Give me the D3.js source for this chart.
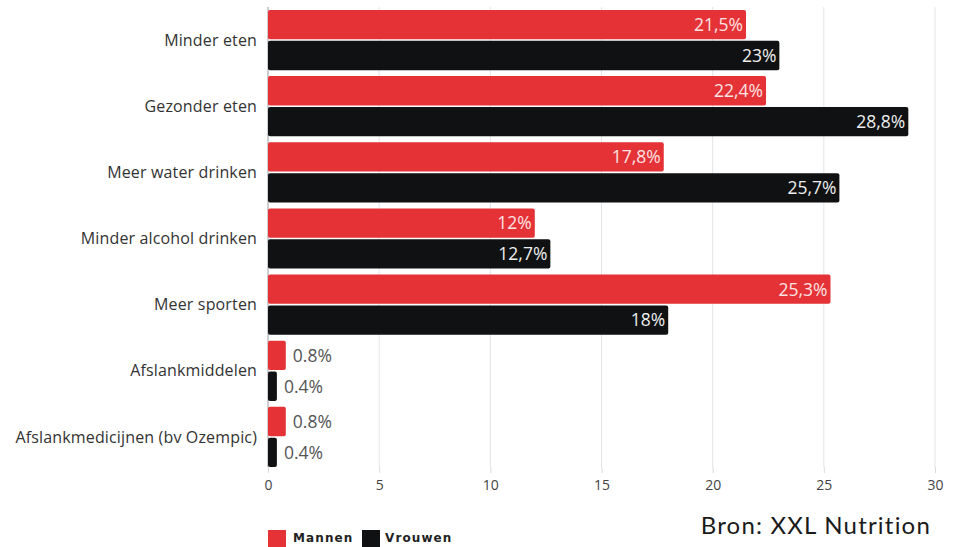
<!DOCTYPE html>
<html>
<head>
<meta charset="utf-8">
<script src="https://cdn.jsdelivr.net/npm/d3@7"></script>
<style>
  body { margin: 0; background: #fff; }
  svg { display: block; }
</style>
</head>
<body>
<script>
// chart data
const categories = ["Minder eten", "Gezonder eten", "Meer water drinken", "Minder alcohol drinken",
  "Meer sporten", "Afslankmiddelen", "Afslankmedicijnen (bv Ozempic)"];
const mannen = [21.5, 22.4, 17.8, 12, 25.3, 0.8, 0.8];
const vrouwen = [23, 28.8, 25.7, 12.7, 18, 0.4, 0.4];
const mannenLabels = ["21,5%", "22,4%", "17,8%", "12%", "25,3%", "0.8%", "0.8%"];
const vrouwenLabels = ["23%", "28,8%", "25,7%", "12,7%", "18%", "0.4%", "0.4%"];
const series = ["Mannen", "Vrouwen"];
const xTicks = [0, 5, 10, 15, 20, 25, 30];

const w = 959, h = 547;
const plotLeft = 268, plotRight = 935, plotTop = 7, plotBottom = 470;
const colors = { Mannen: "#e43236", Vrouwen: "#0f1113" };

let canvas = d3.select("body")
  .append("svg")
  .attr("width", w)
  .attr("height", h)
  .style("font-family", "'Open Sans', sans-serif");

let x = d3.scaleLinear().domain([0, 30]).range([plotLeft, plotRight]);
let y0 = d3.scaleBand().domain(categories).range([plotTop, plotBottom]).paddingInner(0.09).paddingOuter(0.045);
let y1 = d3.scaleBand().domain(series).range([0, y0.bandwidth()]).paddingInner(0.05);

// gridlines
canvas.append("g")
  .selectAll("line")
  .data(xTicks.slice(1))
  .enter()
  .append("line")
  .attr("x1", d => x(d))
  .attr("x2", d => x(d))
  .attr("y1", plotTop)
  .attr("y2", plotBottom - 3)
  .attr("stroke", "#e2e4e6")
  .attr("stroke-width", 1);

// x axis
let xAxis = canvas.append("g")
  .attr("transform", "translate(0," + (plotBottom - 3) + ")")
  .call(d3.axisBottom(x).tickValues(xTicks).tickSize(6).tickPadding(7));
xAxis.select(".domain").remove();
xAxis.selectAll("line").attr("stroke", "#d8dadc");
xAxis.selectAll("text")
  .attr("fill", "#444")
  .style("font-size", "14px")
  .style("font-family", "'Open Sans', sans-serif");

// zero line
canvas.append("line")
  .attr("x1", x(0)).attr("x2", x(0))
  .attr("y1", plotTop).attr("y2", plotBottom - 3)
  .attr("stroke", "#9a9c9e")
  .attr("stroke-width", 1);

// category labels
canvas.append("g")
  .selectAll("text")
  .data(categories)
  .enter()
  .append("text")
  .attr("x", plotLeft - 11)
  .attr("y", d => y0(d) + y0.bandwidth() / 2)
  .attr("dy", "0.35em")
  .attr("text-anchor", "end")
  .attr("fill", "#333")
  .style("font-size", "16px")
  .style("letter-spacing", "0.15px")
  .text(d => d);

// bars
const rows = categories.map((c, i) => [
  { cat: c, s: "Mannen", v: mannen[i], label: mannenLabels[i] },
  { cat: c, s: "Vrouwen", v: vrouwen[i], label: vrouwenLabels[i] }
]).flat();

canvas.append("g")
  .selectAll("rect")
  .data(rows)
  .enter()
  .append("rect")
  .attr("x", x(0))
  .attr("y", d => y0(d.cat) + y1(d.s))
  .attr("width", d => x(d.v) - x(0))
  .attr("height", y1.bandwidth())
  .attr("rx", 2)
  .attr("fill", d => colors[d.s]);

// value labels
canvas.append("g")
  .selectAll("text")
  .data(rows)
  .enter()
  .append("text")
  .attr("x", d => d.v > 5 ? x(d.v) - 3 : x(d.v) + 7)
  .attr("y", d => y0(d.cat) + y1(d.s) + y1.bandwidth() / 2)
  .attr("dy", "0.36em")
  .attr("text-anchor", d => d.v > 5 ? "end" : "start")
  .attr("fill", d => d.v > 5 ? (d.s == "Mannen" ? "#fbe3e3" : "#eeeeee") : "#555")
  .style("font-size", "17.5px")
  .text(d => d.label);

// legend
let legend = canvas.append("g");
let legendPos = [268, 362];
let legendText = [293, 385];
series.forEach((s, i) => {
  legend.append("rect")
    .attr("x", legendPos[i]).attr("y", 530)
    .attr("width", 18).attr("height", 20)
    .attr("fill", colors[s]);
  legend.append("text")
    .attr("x", legendText[i]).attr("y", 542)
    .attr("fill", "#222")
    .style("font-family", "'DejaVu Sans', sans-serif")
    .style("font-size", "12px")
    .style("font-weight", "bold")
    .style("letter-spacing", "1.1px")
    .text(s);
});

// source
canvas.append("text")
  .attr("x", 931)
  .attr("y", 534)
  .attr("text-anchor", "end")
  .attr("fill", "#1a1a1a")
  .style("font-family", "Lato, sans-serif")
  .style("font-size", "24px")
  .style("letter-spacing", "1.2px")
  .text("Bron: XXL Nutrition");
</script>
</body>
</html>
